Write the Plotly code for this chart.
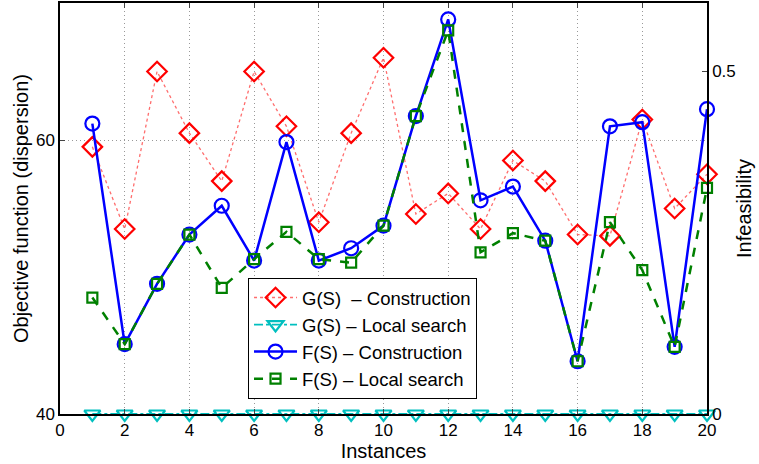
import plotly.graph_objects as go

instances = list(range(1, 21))
g_construction = [59.5, 53.5, 65.0, 60.5, 57.0, 65.0, 61.0, 54.0, 60.5, 66.0,
                  54.6, 56.1, 53.5, 58.5, 57.0, 53.1, 53.0, 61.5, 55.0, 57.5]
g_local = [0.0] * 20
f_construction = [61.2, 45.1, 49.5, 53.1, 55.2, 51.2, 59.85, 51.2, 52.1, 53.75,
                  61.75, 68.8, 55.6, 56.6, 52.65, 43.85, 61.0, 61.3, 44.9, 62.25]
f_local = [48.5, 45.1, 49.5, 53.1, 49.2, 51.3, 53.3, 51.3, 51.05, 53.75,
           61.75, 68.0, 51.8, 53.2, 52.65, 43.85, 54.0, 50.5, 44.9, 56.5]

x_ticks = [0, 2, 4, 6, 8, 10, 12, 14, 16, 18, 20]
y_ticks = [40, 60]
y2_ticks = [0, 0.5]

FONT = "Liberation Sans, Arial, sans-serif"

fig = go.Figure()
fig.add_trace(go.Scatter(
    x=instances, y=g_construction, name="G(S)  \u2013 Construction",
    mode="lines+markers", cliponaxis=False,
    line=dict(color="rgba(255,60,60,0.75)", width=1.3, dash="dot"),
    marker=dict(symbol="diamond-open", size=15, color="#ff0000", line=dict(width=2.2)),
))
fig.add_trace(go.Scatter(
    x=instances, y=g_local, name="G(S) \u2013 Local search", yaxis="y2",
    mode="lines+markers", cliponaxis=False,
    line=dict(color="#00bfbf", width=1.8, dash="dashdot"),
    marker=dict(symbol="triangle-down-open", size=14, color="#00bfbf", line=dict(width=2.2)),
))
fig.add_trace(go.Scatter(
    x=instances, y=f_construction, name="F(S) \u2013 Construction",
    mode="lines+markers", cliponaxis=False,
    line=dict(color="#0000ff", width=2.5),
    marker=dict(symbol="circle-open", size=14, color="#0000ff", line=dict(width=2.2)),
))
fig.add_trace(go.Scatter(
    x=instances, y=f_local, name="F(S) \u2013 Local search",
    mode="lines+markers", cliponaxis=False,
    line=dict(color="#008000", width=2.5, dash="dash"),
    marker=dict(symbol="square-open", size=10, color="#008000", line=dict(width=2.2)),
))

fig.update_layout(
    width=759, height=464,
    margin=dict(l=60, r=52, t=1, b=50),
    paper_bgcolor="white", plot_bgcolor="white",
    font=dict(family=FONT, size=17, color="black"),
    showlegend=True,
    legend=dict(
        x=0.2906, y=0.331, xanchor="left", yanchor="top",
        bgcolor="white", bordercolor="black", borderwidth=1,
        font=dict(size=18.5), tracegroupgap=0, itemwidth=43,
    ),
    xaxis=dict(
        range=[0, 20], tickvals=x_ticks, ticks="inside", ticklen=5,
        showline=True, linecolor="black", linewidth=1.5, mirror="ticks",
        showgrid=True, gridcolor="#999999", griddash="1px,3px", gridwidth=1,
        zeroline=False,
        title=dict(text="Instances", standoff=0),
        tickfont=dict(size=17),
    ),
    yaxis=dict(
        range=[40, 70], tickvals=y_ticks, ticks="inside", ticklen=5,
        showline=True, linecolor="black", linewidth=1.5,
        showgrid=True, gridcolor="#999999", griddash="1px,3px", gridwidth=1,
        zeroline=False,
        title=dict(text="Objective function (dispersion)", standoff=2),
        tickfont=dict(size=17),
    ),
    yaxis2=dict(
        range=[0, 0.6], tickvals=y2_ticks, ticktext=["0", "0.5"],
        overlaying="y", side="right", ticks="inside", ticklen=5,
        showline=True, linecolor="black", linewidth=1.5,
        showgrid=False, zeroline=False,
        title=dict(text="Infeasibility", standoff=2),
        tickfont=dict(size=17),
    ),
)

fig.write_html("out.html")
